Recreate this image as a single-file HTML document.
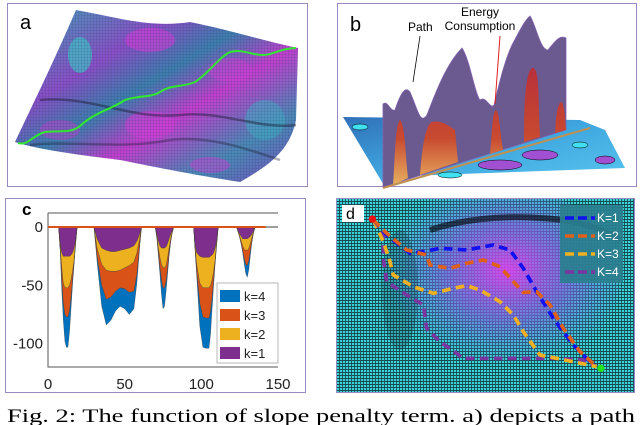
<!DOCTYPE html>
<html><head><meta charset="utf-8"><style>
html,body{margin:0;padding:0;background:#fff;width:640px;height:425px;overflow:hidden}
svg{display:block;font-family:"Liberation Sans",sans-serif}
</style></head><body>
<svg width="640" height="425" viewBox="0 0 640 425">
<defs>
 <linearGradient id="surfA" x1="0" y1="0" x2="1" y2="1">
  <stop offset="0" stop-color="#3aa7b8"/><stop offset="0.3" stop-color="#8a4fc8"/><stop offset="0.45" stop-color="#3d7fb0"/>
  <stop offset="0.6" stop-color="#c23fd0"/><stop offset="0.8" stop-color="#4a8ab8"/><stop offset="1" stop-color="#7a4cc0"/>
 </linearGradient>
 <pattern id="mesh" width="3" height="3" patternUnits="userSpaceOnUse"><path d="M0 0H3M0 0V3" stroke="#1a2a40" stroke-width="0.6" opacity="0.45"/></pattern>
 <pattern id="gridD" width="3" height="3" patternUnits="userSpaceOnUse"><rect width="3" height="3" fill="#38d6d6"/><path d="M0 0.5H3M0.5 0V3" stroke="#1b4a55" stroke-width="0.9"/></pattern>
 <radialGradient id="blob" cx="0.55" cy="0.45" r="0.5"><stop offset="0" stop-color="#e040f0" stop-opacity="0.9"/><stop offset="0.5" stop-color="#8060e0" stop-opacity="0.7"/><stop offset="1" stop-color="#5080e0" stop-opacity="0"/></radialGradient>
 <linearGradient id="redpk" x1="0" y1="0" x2="0" y2="1"><stop offset="0" stop-color="#b8303a"/><stop offset="0.6" stop-color="#c84a30"/><stop offset="1" stop-color="#e8b060"/></linearGradient>
 <linearGradient id="plane" x1="0" y1="0" x2="1" y2="1"><stop offset="0" stop-color="#3070b8"/><stop offset="0.5" stop-color="#40a8e0"/><stop offset="1" stop-color="#5ac8f0"/></linearGradient>
 <clipPath id="clipD"><rect x="336" y="198" width="299" height="195"/></clipPath>
</defs>

<!-- Panel a -->
<g>
 <rect x="7.5" y="3.5" width="300" height="183" fill="#fff" stroke="#9a88c0"/>
 <path d="M76 10 C120 18 150 28 190 22 C230 30 260 40 298 48 L296 120 C290 150 270 165 240 182 C200 176 160 168 120 160 C80 155 40 150 15 142 C30 110 50 70 76 10Z" fill="url(#surfA)"/>
 <ellipse cx="80" cy="55" rx="12" ry="18" fill="#40c0c8" opacity="0.7"/>
 <ellipse cx="150" cy="40" rx="25" ry="12" fill="#d040d8" opacity="0.6"/>
 <ellipse cx="150" cy="125" rx="25" ry="14" fill="#d040d8" opacity="0.6"/>
 <ellipse cx="60" cy="130" rx="20" ry="10" fill="#c040d0" opacity="0.5"/>
 <ellipse cx="230" cy="70" rx="22" ry="12" fill="#d040d8" opacity="0.5"/>
 <ellipse cx="210" cy="165" rx="20" ry="8" fill="#d040d8" opacity="0.5"/>
 <ellipse cx="265" cy="120" rx="20" ry="20" fill="#40b0c8" opacity="0.5"/>
 <path d="M76 10 C120 18 150 28 190 22 C230 30 260 40 298 48 L296 120 C290 150 270 165 240 182 C200 176 160 168 120 160 C80 155 40 150 15 142 C30 110 50 70 76 10Z" fill="url(#mesh)"/>
 <path d="M40 100 C90 95 130 120 180 115 C220 110 260 130 296 125" stroke="#1a1a30" stroke-width="2.5" fill="none" opacity="0.45"/>
 <path d="M30 145 C70 140 120 150 170 140 C210 135 250 150 280 160" stroke="#1a1a30" stroke-width="2.5" fill="none" opacity="0.35"/>
 <path d="M18 143 C28 146 33 135 45 132 C60 130 70 134 80 126 C95 112 110 110 125 100 C140 95 150 98 160 92 C172 84 180 88 195 82 C210 72 218 58 230 52 C245 48 255 58 270 54 C282 50 288 48 296 48" stroke="#30e830" stroke-width="2" fill="none"/>
 <text x="20" y="29" font-size="20" fill="#000">a</text>
</g>

<!-- Panel b -->
<g>
 <rect x="337.5" y="3.5" width="299" height="183" fill="#fff" stroke="#9a88c0"/>
 <path d="M343 117 L580 120 L605 130 L625 168 L405 176 L385 187 Z" fill="url(#plane)"/>
 <ellipse cx="360" cy="127" rx="8" ry="3" fill="#40e0f0" stroke="#000" stroke-width="0.5"/>
 <ellipse cx="500" cy="165" rx="22" ry="5" fill="#a050d0" stroke="#000" stroke-width="0.5"/>
 <ellipse cx="540" cy="155" rx="18" ry="5" fill="#a050d0" stroke="#000" stroke-width="0.5"/>
 <ellipse cx="605" cy="160" rx="10" ry="4" fill="#a050d0" stroke="#000" stroke-width="0.5"/>
 <ellipse cx="450" cy="175" rx="12" ry="3" fill="#40e0f0" stroke="#000" stroke-width="0.5"/>
 <ellipse cx="580" cy="145" rx="8" ry="3" fill="#40e0f0" stroke="#000" stroke-width="0.5"/>
 <path d="M383 187 L383 104 C388 100 390 112 395 110 C400 95 405 85 410 92 C418 110 420 125 427 115 C440 80 450 60 462 48 C470 60 475 95 480 100 C486 95 490 110 494 105 C500 80 505 60 512 45 C520 30 525 20 530 16 C536 25 540 50 548 50 C556 40 560 35 566 38 L566 130 Z" fill="#6b5a8f" stroke="#8060b0" stroke-width="0.8"/>
 <path d="M393 185 C395 160 395 125 400 120 C405 125 405 150 408 178 Z M420 175 C422 150 425 125 432 122 C440 120 448 125 455 130 L458 162 Z M490 154 C492 135 492 112 496 110 C500 114 500 135 503 150 Z M524 142 C524 110 525 72 532 68 C540 66 538 100 540 137 Z M555 133 C556 118 557 102 562 102 C565 108 565 120 566 130 Z" fill="url(#redpk)"/>
 <line x1="383" y1="188" x2="590" y2="128" stroke="#c09050" stroke-width="2"/>
 <text x="350" y="31" font-size="20">b</text>
 <text x="408" y="31" font-size="12">Path</text>
 <line x1="420" y1="36" x2="413" y2="82" stroke="#000" stroke-width="0.8"/>
 <text x="480" y="16" font-size="12" text-anchor="middle"><tspan x="480" dy="0">Energy</tspan><tspan x="480" dy="14">Consumption</tspan></text>
 <line x1="500" y1="36" x2="495" y2="104" stroke="#e02020" stroke-width="1"/>
</g>

<!-- Panel c -->
<g>
 <rect x="5.5" y="198.5" width="300" height="194" fill="#fff" stroke="#9a88c0"/>
 <g id="chartC"></g>
 <text x="22" y="215" font-size="17" font-weight="bold">c</text>
</g>

<!-- Panel d -->
<g>
 <g clip-path="url(#clipD)">
  <rect x="336" y="198" width="299" height="195" fill="url(#gridD)"/>
  <ellipse cx="495" cy="280" rx="125" ry="95" fill="url(#blob)"/>
  <path d="M430 230 C460 220 500 215 540 218 C580 220 600 228 620 240" stroke="#000" stroke-width="6" fill="none" opacity="0.6"/>
  <ellipse cx="400" cy="290" rx="18" ry="60" fill="#103040" opacity="0.25"/>
 </g>
 <rect x="336.5" y="198.5" width="298" height="194" fill="none" stroke="#9a88c0"/>
 <rect x="342" y="205" width="22" height="17" fill="#fff"/>
 <text x="346" y="219" font-size="16">d</text>
 <g transform="translate(320,195) scale(0.3333)" fill="none" stroke-width="11" stroke-dasharray="26 16">
  <polyline stroke="#7a35a0" points="160,75 190,120 190,190 200,260 260,300 310,330 320,400 360,440 430,490 560,490 700,490 790,495 830,515"/>
  <polyline stroke="#f0b020" points="160,75 190,140 210,200 220,240 280,275 340,295 400,280 440,272 480,285 540,320 580,360 610,410 660,480 720,492 830,515"/>
  <polyline stroke="#1010f0" points="160,75 200,120 270,175 310,170 360,160 440,165 520,150 570,165 610,220 650,290 700,370 760,450 820,510"/>
  <polyline stroke="#e0601a" points="160,75 200,115 260,165 300,175 320,180 330,210 390,220 440,205 490,195 540,215 580,260 610,292 650,290 690,330 730,400 780,470 830,515"/>
  <circle cx="157" cy="72" r="11" fill="#f01010" stroke="none"/>
  <circle cx="843" cy="520" r="11" fill="#20e020" stroke="none"/>
 </g>
 <g>
  <rect x="560" y="205" width="63" height="78" fill="#2a7f8f" opacity="0.92"/>
  <g stroke-width="3.5" stroke-dasharray="9 4">
   <line x1="565" y1="218" x2="595" y2="218" stroke="#1010f0"/>
   <line x1="565" y1="236" x2="595" y2="236" stroke="#e0601a"/>
   <line x1="565" y1="254" x2="595" y2="254" stroke="#f0b020"/>
   <line x1="565" y1="272" x2="595" y2="272" stroke="#7a35a0"/>
  </g>
  <g font-size="12" fill="#fff">
   <text x="597" y="222">K=1</text>
   <text x="597" y="240">K=2</text>
   <text x="597" y="258">K=3</text>
   <text x="597" y="276">K=4</text>
  </g>
 </g>
</g>

<text x="7" y="422" font-family="Liberation Serif, serif" font-size="19" textLength="628" lengthAdjust="spacingAndGlyphs">Fig. 2: The function of slope penalty term. a) depicts a path</text>
</svg>
<script>
const xs = [0,
 7,8,9,10,11,12,13,14,15,16,17,18,19,
 30,32,35,38,41,44,47,50,53,56,58,60,61,
 70,71,72,73,74,75,76,77,78,79,80,81,82,
 95,96,97,99,101,103,105,106,107,108,109,110,111,
 123,124,125,126,127,128,129,130,131,132,133,134,135,
 150];
const k1 = [0,
 0,15,22,25,25,25,25,25,24,22,18,10,0,
 0,10,18,20,21,21,20,19,18,16,12,5,0,
 0,6,12,16,18,18,18,17,14,10,6,3,0,
 0,15,22,25,26,26,26,25,24,22,18,10,0,
 0,3,6,8,10,10,10,10,9,8,6,3,0,
 0];
const k2 = [0,
 0,3,13,23,27,27,27,25,21,16,10,2,0,
 0,8,14,17,17,17,17,16,15,14,10,3,0,
 0,2,6,10,14,17,17,16,12,8,4,1,0,
 0,3,10,23,26,26,26,25,21,16,10,2,0,
 0,1,2,4,6,9,10,10,9,6,3,1,0,
 0];
const k3 = [0,
 0,2,10,17,23,25,25,22,15,7,2,2,0,
 0,7,18,25,22,17,15,18,23,25,18,4,0,
 0,1,4,8,13,17,17,13,9,4,2,1,0,
 0,2,6,17,25,26,26,22,15,7,2,2,0,
 0,0,1,2,4,8,12,13,10,6,3,1,0,
 0];
const k4 = [0,
 0,2,10,15,23,26,26,18,10,5,2,1,0,
 0,5,18,22,20,17,16,17,19,15,8,2,0,
 0,1,3,6,13,18,16,9,5,3,1,0,0,
 0,2,4,20,26,26,26,20,10,5,2,1,0,
 0,0,0,1,2,5,8,10,8,4,1,0,0,
 0];
const xTicks = [0, 50, 100, 150];
const yTicks = [0, -50, -100];
const layers = [{name:'k=1',v:k1,c:'#7e2f8e'},{name:'k=2',v:k2,c:'#edb120'},{name:'k=3',v:k3,c:'#d95319'},{name:'k=4',v:k4,c:'#0072bd'}];

const NS = 'http://www.w3.org/2000/svg';
const X0 = 48, X1 = 278, Y0 = 213, Y1 = 367, XMIN = 0, XMAX = 150, YMAX = 12, YMIN = -120;
const sx = v => X0 + (v - XMIN) / (XMAX - XMIN) * (X1 - X0);
const sy = v => Y0 + (YMAX - v) / (YMAX - YMIN) * (Y1 - Y0);
const g = document.getElementById('chartC');
function mk(tag, attrs) { const e = document.createElementNS(NS, tag); for (const k in attrs) e.setAttribute(k, attrs[k]); g.appendChild(e); return e; }

const frame = mk('path', {d:`M${X0} ${Y0}H${X1}M${X0} ${Y0}V${Y1}H${X1}`, stroke:'#555', fill:'none', 'stroke-width':1});



let cum = xs.map(() => 0);
const drawn = [];
layers.forEach(L => {
  const top = cum.slice();
  const bot = cum.map((c, i) => c + L.v[i]);
  let d = 'M' + xs.map((x, i) => sx(x).toFixed(1) + ' ' + sy(-top[i]).toFixed(1)).join(' L');
  for (let i = xs.length - 1; i >= 0; i--) d += ' L' + sx(xs[i]).toFixed(1) + ' ' + sy(-bot[i]).toFixed(1);
  drawn.push({d: d + 'Z', c: L.c, name: L.name});
  cum = bot;
});
drawn.reverse().forEach(a => {
  const p = mk('path', {d: a.d, fill: a.c, stroke: '#333', 'stroke-width': 0.3});
  
  
});
const zl = mk('line', {x1: sx(0), x2: sx(142), y1: sy(0), y2: sy(0), stroke: '#d95319', 'stroke-width': 2});



xTicks.forEach(t => {
  const tx = mk('text', {x: sx(t), y: 389, 'font-size': 15, 'text-anchor': 'middle', fill: '#222'});
  tx.textContent = t;
  
  
});
yTicks.forEach(t => {
  const ty = mk('text', {x: 43, y: sy(t) + 5, 'font-size': 15, 'text-anchor': 'end', fill: '#222'});
  ty.textContent = t;
  
  
});

const lg = mk('rect', {x: 217, y: 283, width: 61, height: 80, fill: '#fff', stroke: '#888', 'stroke-width': 0.6});


layers.slice().reverse().forEach((L, i) => {
  const yy = 290 + i * 19;
  const s = mk('rect', {x: 220, y: yy, width: 20, height: 12, fill: L.c});
  
  
  const t = mk('text', {x: 244, y: yy + 11, 'font-size': 13, fill: '#222'});
  t.textContent = L.name;
  
  
});
</script>
</body></html>
